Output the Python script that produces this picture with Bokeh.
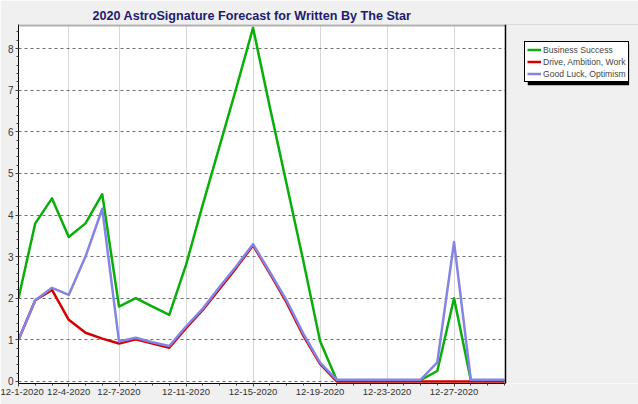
from bokeh.plotting import figure
from bokeh.models import FixedTicker, Legend, LegendItem, Range1d, BoxAnnotation, Span
from bokeh.embed import file_html
from bokeh.resources import INLINE

# ---- data ----
days = list(range(1, 31))
tick_days = [1, 4, 7, 11, 15, 19, 23, 27]
tick_labels = ["12-1-2020", "12-4-2020", "12-7-2020", "12-11-2020",
               "12-15-2020", "12-19-2020", "12-23-2020", "12-27-2020"]
business = [2.0, 3.8, 4.4, 3.47, 3.8, 4.5, 1.8, 2.0, 1.8, 1.6,
            2.8, 4.25, 5.65, 7.05, 8.5, 6.6, 4.75, 2.9, 0.97, 0.03,
            0.03, 0.03, 0.03, 0.03, 0.03, 0.25, 2.0, 0.03, 0.03, 0.03]
drive = [1.0, 1.95, 2.2, 1.48, 1.17, 1.03, 0.91, 1.01, 0.91, 0.81,
         1.28, 1.72, 2.22, 2.73, 3.27, 2.6, 1.9, 1.1, 0.42, 0.0,
         0.0, 0.0, 0.0, 0.0, 0.0, 0.0, 0.0, 0.0, 0.0, 0.0]
luck = [1.0, 1.95, 2.25, 2.08, 3.0, 4.15, 0.96, 1.05, 0.94, 0.85,
        1.32, 1.75, 2.27, 2.77, 3.3, 2.63, 1.95, 1.15, 0.45, 0.04,
        0.04, 0.04, 0.04, 0.04, 0.04, 0.46, 3.35, 0.04, 0.04, 0.04]
series_names = ["Business Success", "Drive, Ambition, Work", "Good Luck, Optimism"]
series_colors = ["#0aae0a", "#d40000", "#8484e4"]

X_END_DATA = 30.07      # right edge of the data area
X_END = 38.01           # frame extends further to host the legend
Y_START, Y_END = -0.05, 8.58

p = figure(width=638, height=404, output_backend="svg", toolbar_location=None,
           x_range=Range1d(1, X_END), y_range=Range1d(Y_START, Y_END),
           min_border_left=18, min_border_right=0, min_border_top=24, min_border_bottom=21,
           title="2020 AstroSignature Forecast for Written By The Star")
p.title.align = "left"
p.title.text_font = "Liberation Sans"
p.title.text_font_size = "12.6px"
p.title.text_font_style = "bold"
p.title.text_color = "#1c1c72"
p.title.standoff = 4
p.title.offset = 74

p.background_fill_color = "white"
p.border_fill_color = "#f0f0f0"
p.outline_line_color = None

# axes
p.xaxis.ticker = FixedTicker(ticks=tick_days, minor_ticks=days)
p.xaxis.major_label_overrides = {d: l for d, l in zip(tick_days, tick_labels)}
p.xaxis.bounds = (1, X_END_DATA)
p.yaxis.ticker = FixedTicker(ticks=list(range(0, 9)),
                             minor_ticks=[i * 0.2 for i in range(0, 44)])
for ax in (p.xaxis[0], p.yaxis[0]):
    ax.major_label_text_font = "Liberation Sans"
    ax.major_label_text_color = "#333333"
    ax.axis_line_color = "black"
    ax.major_tick_line_color = "#444444"
    ax.minor_tick_line_color = "#444444"
    ax.major_tick_in = 0
    ax.minor_tick_in = 0
    ax.major_tick_out = 3
    ax.minor_tick_out = 2
    ax.major_label_standoff = 2
p.xaxis.major_label_text_font_size = "9.5px"
p.yaxis.major_label_text_font_size = "10px"

p.xgrid.ticker = FixedTicker(ticks=tick_days)
p.xgrid.grid_line_color = "#d8d8d8"
p.ygrid.ticker = FixedTicker(ticks=list(range(0, 9)))
p.ygrid.grid_line_color = "#707070"
p.ygrid.grid_line_dash = "3 3"

renderers = []
for vals, col in zip([business, drive, luck], series_colors):
    r = p.line(days, vals, line_color=col, line_width=2.5, line_join="round")
    renderers.append(r)

# top border of plot area
p.add_layout(Span(location=Y_END, dimension="width", line_color="#b0b0b0", line_width=4))
# cover the area right of the data region
p.add_layout(BoxAnnotation(left=X_END_DATA, fill_color="#f0f0f0", fill_alpha=1.0,
                           line_color=None))
p.add_layout(Span(location=X_END_DATA, dimension="height", line_color="black", line_width=1.5))

# legend shadow (data units)
p.add_layout(BoxAnnotation(left=31.4, right=37.45, top=8.12, bottom=7.12,
                           fill_color="black", fill_alpha=1.0, line_color=None))

legend = Legend(items=[LegendItem(label=n, renderers=[r]) for n, r in zip(series_names, renderers)],
                location=(506, 301), orientation="vertical",
                border_line_color="black", border_line_alpha=1.0,
                background_fill_color="white", background_fill_alpha=1.0,
                label_text_font="Liberation Sans", label_text_font_size="8.6px",
                label_height=11, glyph_height=11, glyph_width=14,
                label_standoff=2, spacing=1, padding=2, margin=0)
p.add_layout(legend)

open("out.html", "w").write(file_html(p, INLINE))
